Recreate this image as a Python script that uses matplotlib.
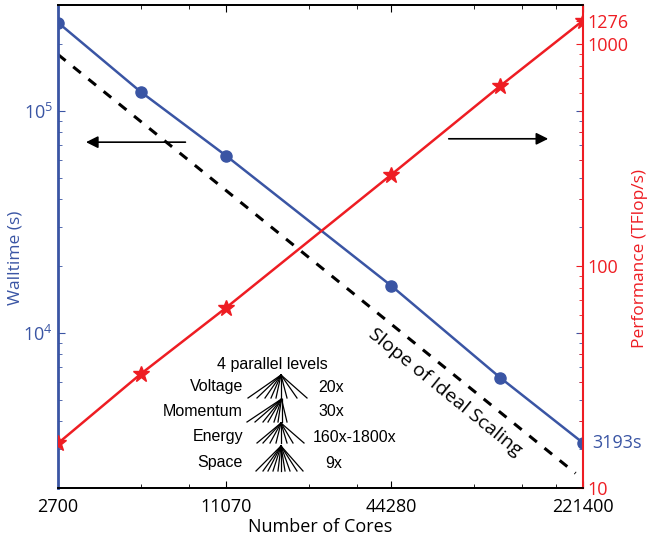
import matplotlib
matplotlib.use("Agg")

import numpy as np
import matplotlib.pyplot as plt
from matplotlib.ticker import NullFormatter, FixedLocator
from matplotlib.transforms import blended_transform_factory

# data
cores = [2700, 5400, 11070, 44280, 110700, 221400]
walltime = [250000, 122000, 62800, 16300, 6270, 3193]
perf = [15.9, 32.6, 64.9, 258, 649, 1276]
ideal_cores = [2700, 208000]
ideal_start = 179500

x_ticks = [2700, 11070, 44280, 221400]
x_minor = [5400, 8100, 22140, 33210, 88560, 132840, 177120]
left_ticks = [1e4, 1e5]
right_ticks = [10, 100, 1000, 1276]

levels = ["Voltage", "Momentum", "Energy", "Space"]
level_factors = ["20x", "30x", "160x-1800x", "9x"]

blue = "#3A55A4"
red = "#EE1D23"

plt.rcParams["font.family"] = ["Open Sans", "DejaVu Sans"]

fig = plt.figure(figsize=(6.47, 5.4), dpi=100)
ax = fig.add_axes([58 / 647, 1 - 488 / 540, 525 / 647, 483 / 540])
ax2 = ax.twinx()

# walltime on the left axis
ax.plot(cores, walltime, color=blue, lw=1.8, marker="o", ms=8, zorder=3)
ideal = [ideal_start * ideal_cores[0] / c for c in ideal_cores]
ax.plot(ideal_cores, ideal, color="black", lw=2.2, ls=(0, (3.2, 3.2)), zorder=2)

ax.set_xscale("log")
ax.set_yscale("log")
ax.set_xlim(2700, 221400)
ax.set_ylim(2000, 3e5)

ax.xaxis.set_major_locator(FixedLocator(x_ticks))
ax.set_xticklabels([str(v) for v in x_ticks])
ax.xaxis.set_minor_locator(FixedLocator(x_minor))
ax.xaxis.set_minor_formatter(NullFormatter())

ax.yaxis.set_major_locator(FixedLocator(left_ticks))
ax.set_yticklabels([r"$\mathregular{10^{4}}$", r"$\mathregular{10^{5}}$"])
ax.yaxis.set_minor_formatter(NullFormatter())

ax.tick_params(axis="x", which="both", direction="in", top=True, colors="black",
               labelsize=13, pad=7)
ax.tick_params(axis="x", which="major", length=5)
ax.tick_params(axis="x", which="minor", length=3)
ax.tick_params(axis="y", which="both", direction="in", right=True, color=blue,
               labelcolor=blue, labelsize=13)
ax.tick_params(axis="y", which="major", length=5)
ax.tick_params(axis="y", which="minor", length=3)

ax.set_xlabel("Number of Cores", fontsize=13, labelpad=2)
ax.set_ylabel("Walltime (s)", fontsize=12.5, color=blue)
ax.yaxis.set_label_coords(-0.065, 0.476)

# performance on the right axis
ax2.plot(cores, perf, color=red, lw=1.8, marker="*", ms=12, zorder=3)
ax2.set_yscale("log")
ax2.set_ylim(10, 1500)
ax2.yaxis.set_major_locator(FixedLocator(right_ticks))
ax2.set_yticklabels([str(v) for v in right_ticks])
ax2.yaxis.set_minor_formatter(NullFormatter())
ax2.tick_params(axis="y", which="both", direction="in", color=red,
                labelcolor=red, labelsize=13, pad=3)
ax2.tick_params(axis="y", which="major", length=5)
ax2.tick_params(axis="y", which="minor", length=3)
ax2.set_ylabel("Performance (TFlop/s)", fontsize=12.5, color=red)
ax2.yaxis.set_label_coords(1.093, 0.476)

for a in (ax, ax2):
    a.spines["top"].set_linewidth(1.3)
    a.spines["bottom"].set_linewidth(1.3)
ax.spines["left"].set_color(blue)
ax.spines["left"].set_linewidth(2)
ax2.spines["left"].set_visible(False)
ax2.spines["right"].set_color(red)
ax2.spines["right"].set_linewidth(1.5)
ax.spines["right"].set_visible(False)

# last walltime value labelled beside the right axis
tr = blended_transform_factory(ax.transAxes, ax.transData)
ax.text(1.017, walltime[-1], f"{walltime[-1]}s", transform=tr, color=blue,
        fontsize=13, ha="left", va="center", clip_on=False)

# arrows pointing to each axis
ax2.annotate("", xy=(0.048, 0.716), xytext=(0.248, 0.716), xycoords="axes fraction",
             arrowprops=dict(arrowstyle="-|>", color="black", lw=1.2,
                             mutation_scale=18, fc="black"))
ax2.annotate("", xy=(0.939, 0.723), xytext=(0.739, 0.723), xycoords="axes fraction",
             arrowprops=dict(arrowstyle="-|>", color="black", lw=1.2,
                             mutation_scale=18, fc="black"))

ax2.text(0.737, 0.199, "Slope of Ideal Scaling", transform=ax2.transAxes,
         rotation=-39, rotation_mode="anchor", ha="center", va="center", fontsize=14)


# parallel levels tree, placed in pixel positions of the axes box
def afrac(px, py):
    return (px - 58) / 525, (488 - py) / 483


tree_font = ["Liberation Sans", "DejaVu Sans"]
x, y = afrac(272, 364)
ax2.text(x, y, "4 parallel levels", transform=ax2.transAxes, ha="center",
         va="center", fontsize=11.5, family=tree_font)

label_y = [387, 411, 437, 463]
factor_x = [318, 318, 313, 325]
for name, fac, py, fx in zip(levels, level_factors, label_y, factor_x):
    x, y = afrac(243, py)
    ax2.text(x, y, name, transform=ax2.transAxes, ha="right", va="center",
             fontsize=11.5, family=tree_font)
    x, y = afrac(fx, py)
    ax2.text(x, y, fac, transform=ax2.transAxes, ha="left", va="center",
             fontsize=11.5, family=tree_font)

fans = [
    ((281, 375), 398, [248, 257, 265, 271, 276, 281, 287, 297, 307]),
    ((281.5, 399), 422, [247, 255, 263, 268, 274, 278, 281.5, 287]),
    ((281, 423), 443, [257, 263, 270, 276, 281, 287, 293, 304]),
    ((281, 446), 471, [256, 263, 268, 273, 278, 281, 285, 290, 297, 303]),
]
for (apx, apy), by, bxs in fans:
    ax0, ay0 = afrac(apx, apy)
    for bx in bxs:
        x1, y1 = afrac(bx, by)
        ax2.plot([ax0, x1], [ay0, y1], transform=ax2.transAxes, color="black",
                 lw=0.9, clip_on=False)

fig.savefig("out.png", dpi=100)
